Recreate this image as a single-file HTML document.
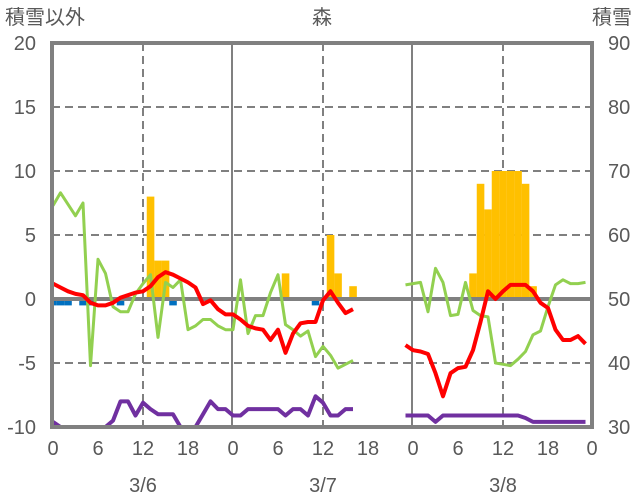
<!DOCTYPE html>
<html><head><meta charset="utf-8"><style>
body{margin:0;background:#fff;width:636px;height:501px;overflow:hidden}
svg{display:block}
text{font-family:"Liberation Sans","Noto Sans CJK JP",sans-serif;fill:#595959;font-size:20px}
</style></head><body>
<svg id="c" width="636" height="501"></svg>
<script>
const dayLabels=["3/6","3/7","3/8"];
const hourTicks=[0,6,12,18,0,6,12,18,0,6,12,18,0];
const leftTicks=[-10,-5,0,5,10,15,20];
const rightTicks=[30,40,50,60,70,80,90];
const N=null;
// hourly values, 72 hours (3 days)
const redVals=[1.2,0.9,0.6,0.4,0.3,-0.3,-0.5,-0.5,-0.3,0.1,0.3,0.5,0.6,1.0,1.7,2.1,1.9,1.6,1.3,0.9,-0.4,-0.1,-0.8,-1.2,
-1.2,-1.6,-2.1,-2.3,-2.4,-3.2,-2.4,-4.2,-2.7,-1.9,-1.8,-1.8,-0.1,0.6,-0.3,-1.1,-0.8,N,N,N,N,N,N,-3.6,
-4.0,-4.1,-4.3,-5.8,-7.6,-5.8,-5.4,-5.3,-4.0,-1.8,0.6,0.0,0.6,1.1,1.1,1.1,0.6,-0.3,-0.7,-2.4,-3.2,-3.2,-2.9,-3.5];
const greenVals=[7.3,8.3,7.4,6.5,7.5,-5.2,3.1,2.0,-0.6,-1.0,-1.0,0.4,1.2,1.9,-3.0,1.3,0.9,1.5,-2.4,-2.1,-1.6,-1.6,-2.1,-2.4,
-2.4,1.5,-2.7,-1.3,-1.3,0.5,1.9,-2.0,-2.4,-2.9,-2.5,-4.5,-3.7,-4.4,-5.4,-5.1,-4.8,N,N,N,N,N,N,1.1,
1.2,1.3,-1.0,2.4,1.3,-1.3,-1.2,1.3,-0.9,-1.3,-1.4,-5.0,-5.1,-5.2,-4.7,-4.1,-2.8,-2.5,-0.6,1.1,1.5,1.2,1.2,1.3];
const purpleVals=[-9.6,-10,-10,-10,-10,-10,-10,-10,-9.5,-8.0,-8.0,-9.1,-8.1,-8.6,-9.0,-9.0,-9.0,-10,-10,-10,-9.0,-8.0,-8.6,-8.6,
-9.1,-9.1,-8.6,-8.6,-8.6,-8.6,-8.6,-9.1,-8.6,-8.6,-9.1,-7.6,-8.1,-9.1,-9.1,-8.6,-8.6,N,N,N,N,N,N,-9.1,
-9.1,-9.1,-9.1,-9.6,-9.1,-9.1,-9.1,-9.1,-9.1,-9.1,-9.1,-9.1,-9.1,-9.1,-9.1,-9.3,-9.6,-9.6,-9.6,-9.6,-9.6,-9.6,-9.6,-9.6];
const orangeHours=[13,14,15,31,37,38,40,56,57,58,59,60,61,62,63,64];
const orangeVals=[8,3,3,2,5,2,1,2,9,7,10,10,10,10,9,1];
const blueHours=[0,1,2,4,5,9,16,35];
const blueVals=[-0.5,-0.5,-0.5,-0.5,-0.5,-0.5,-0.5,-0.5];

const L=52,R=592,T=43,B=427;
const X=h=>53+h*7.5;
const Y=v=>299-v*12.8;
const svg=document.getElementById('c');
const NS='http://www.w3.org/2000/svg';
function mk(tag,a,p){const e=document.createElementNS(NS,tag);for(const k in a)e.setAttribute(k,a[k]);(p||svg).appendChild(e);return e;}

// grid
leftTicks.forEach(v=>{if(v===0||v===20||v===-10)return;
 const g=mk('line',{x1:L,x2:R,y1:Y(v),y2:Y(v),stroke:'#808080','stroke-width':2,'stroke-dasharray':'8,5'});
 
 });
[0,1,2].forEach(d=>{const g=mk('line',{x1:X(d*24+12),x2:X(d*24+12),y1:T,y2:B,stroke:'#808080','stroke-width':2,'stroke-dasharray':'8,5'});
 
 });
[1,2].forEach(d=>{const g=mk('line',{x1:L+d*180,x2:L+d*180,y1:T,y2:B,stroke:'#808080','stroke-width':2});
 
 });

// bars
orangeHours.forEach((h,i)=>{const v=orangeVals[i];
 const b=mk('rect',{x:X(h)-3.75,y:Y(v),width:7.6,height:Y(0)-Y(v),fill:'#FFC000'});
 
 });
blueHours.forEach((h,i)=>{const v=blueVals[i];
 const x0=Math.max(L,X(h)-3.75);
 const b=mk('rect',{x:x0,y:Y(0),width:X(h)+3.8-x0,height:Y(v)-Y(0),fill:'#0070C0'});
 
 });

// zero line
const z=mk('line',{x1:L,x2:R,y1:Y(0),y2:Y(0),stroke:'#808080','stroke-width':4});



function series(vals,color,w,name){
 let d='',pen=false;
 vals.forEach((v,h)=>{if(v===null){pen=false;return;}d+=(pen?'L':'M')+X(h).toFixed(1)+','+Y(v).toFixed(1);pen=true;});
 const p=mk('path',{d:d,fill:'none',stroke:color,'stroke-width':w,'stroke-linejoin':'round'});
 
 
}
series(greenVals,'#92D050',3,'green-series-line');
series(redVals,'#FF0000',4,'temperature-line');
series(purpleVals,'#7030A0',4,'purple-series-line');

// frame
const f=mk('rect',{x:L,y:T,width:R-L,height:B-T,fill:'none',stroke:'#808080','stroke-width':4});



// ticks
leftTicks.forEach(v=>{const t=mk('text',{x:36,y:Y(v)+7,'text-anchor':'end'});t.textContent=v;
 
 });
rightTicks.forEach(v=>{const t=mk('text',{x:608,y:Y((v-50)/2)+7,'text-anchor':'start'});t.textContent=v;
 
 });
hourTicks.forEach((v,i)=>{const t=mk('text',{x:X(i*6)+(i===12?-1:0),y:455,'text-anchor':'middle'});t.textContent=v;
 
 });
dayLabels.forEach((v,i)=>{const t=mk('text',{x:X(i*24+12),y:492,'text-anchor':'middle'});t.textContent=v;
 
 });
[['積雪以外',5,24,'start','left-axis-title'],['森',322,24,'middle','chart-title'],['積雪',632,24,'end','right-axis-title']].forEach(a=>{
 const t=mk('text',{x:a[1],y:a[2],'text-anchor':a[3]});t.textContent=a[0];
 
 });
</script>
</body></html>
